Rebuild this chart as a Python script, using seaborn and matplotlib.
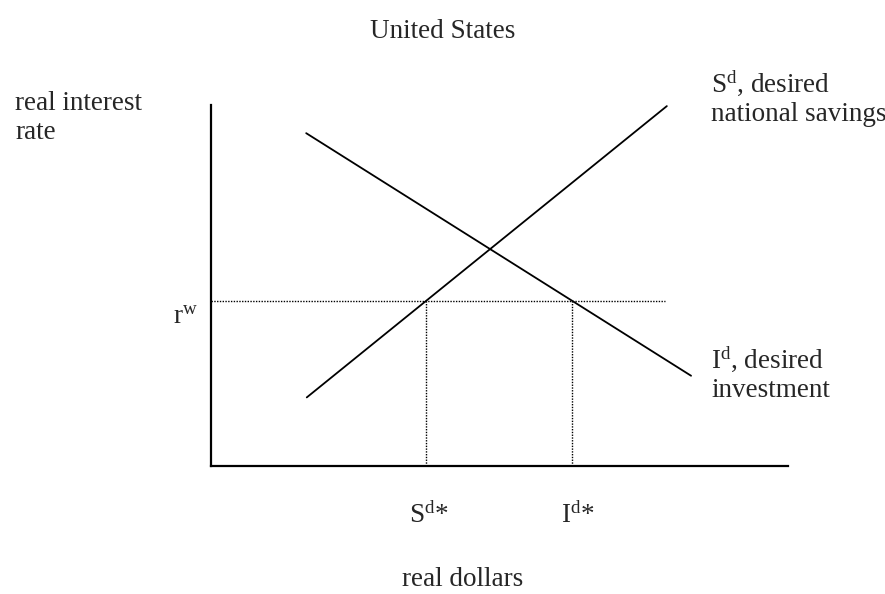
import numpy as np
import matplotlib.pyplot as plt
import seaborn as sns

# schematic schedules: x = real dollars, y = real interest rate (arbitrary units)
savings_x = [16.6, 79.0]      # S^d, desired national savings
savings_y = [19.0, 99.7]
invest_x = [16.5, 83.2]       # I^d, desired investment
invest_y = [92.2, 25.0]
world_rate = 45.8             # r^w
rate_line_end = 78.7

# quantities at the world rate
s_star = np.interp(world_rate, savings_y, savings_x)
i_star = np.interp(world_rate, invest_y[::-1], invest_x[::-1])

sns.set_theme(style="white")
plt.rcParams["font.family"] = ["Liberation Serif", "DejaVu Serif"]
plt.rcParams["mathtext.fontset"] = "custom"
plt.rcParams["mathtext.rm"] = "Liberation Serif"
plt.rcParams["mathtext.it"] = "Liberation Serif:italic"
fs = 19.5

fig = plt.figure(figsize=(8.85, 5.94), dpi=100)
ax = fig.add_axes([0.2384, 0.2155, 0.652, 0.6077])

sns.lineplot(x=savings_x, y=savings_y, color="black", linewidth=1.3, ax=ax)
sns.lineplot(x=invest_x, y=invest_y, color="black", linewidth=1.3, ax=ax)

dots = dict(color="black", linewidth=1.0, linestyle=(0, (1, 1)))
ax.hlines(world_rate, 0, rate_line_end, **dots)
ax.vlines([s_star, i_star], 0, world_rate, **dots)

ax.set_xlim(0, 100)
ax.set_ylim(0, 100)
ax.set_xticks([])
ax.set_yticks([])
for side in ["top", "right"]:
    ax.spines[side].set_visible(False)
for side in ["left", "bottom"]:
    ax.spines[side].set_color("black")
    ax.spines[side].set_linewidth(1.6)

# text
fig.text(0.5, 1 - 32 / 594, "United States", ha="center", va="center", fontsize=fs)
fig.text(15 / 885, 1 - 139 / 594, "real interest\nrate", ha="left", va="baseline",
         fontsize=fs, linespacing=1.2)
fig.text(463 / 885, 1 - 586 / 594, "real dollars", ha="center", va="baseline", fontsize=fs)
fig.text(711 / 885, 1 - 121 / 594, "S$^{\\mathrm{d}}$, desired\nnational savings",
         ha="left", va="baseline", fontsize=fs, linespacing=1.2)
fig.text(711 / 885, 1 - 397 / 594, "I$^{\\mathrm{d}}$, desired\ninvestment",
         ha="left", va="baseline", fontsize=fs, linespacing=1.2)

ax.annotate("r$^{\\mathrm{w}}$", xy=(0, world_rate), xytext=(-13, -23),
            textcoords="offset pixels", ha="right", va="baseline", fontsize=fs,
            annotation_clip=False)
ax.annotate("S$^{\\mathrm{d}}$*", xy=(s_star, 0), xytext=(3, -57),
            textcoords="offset pixels", ha="center", va="baseline", fontsize=fs,
            annotation_clip=False)
ax.annotate("I$^{\\mathrm{d}}$*", xy=(i_star, 0), xytext=(6, -57),
            textcoords="offset pixels", ha="center", va="baseline", fontsize=fs,
            annotation_clip=False)

fig.savefig("out.png", dpi=100, facecolor="white")
